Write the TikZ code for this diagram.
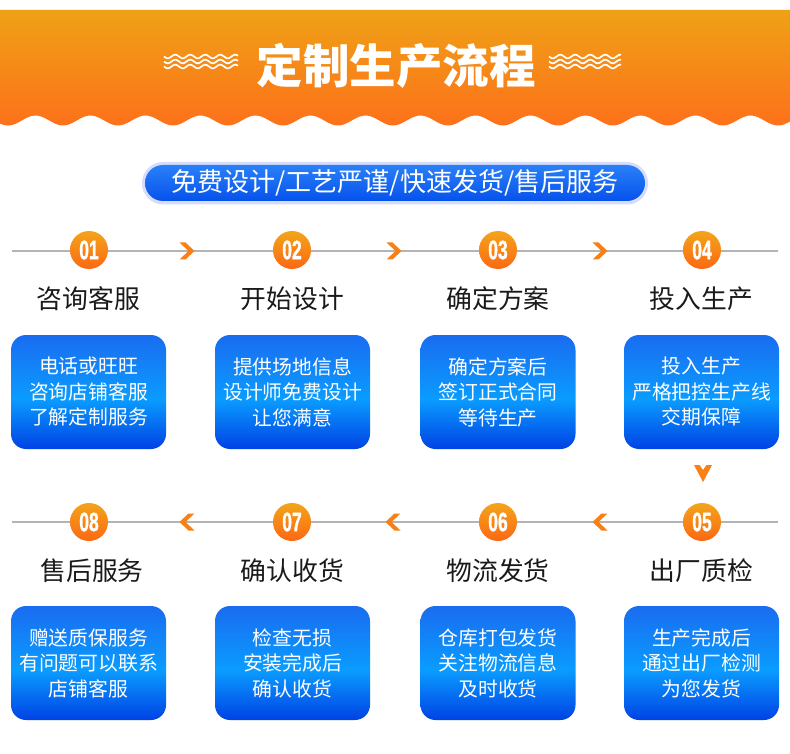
\documentclass[tikz,border=0pt]{standalone}
\usepackage{fontspec}
\setmainfont{Noto Sans CJK SC}
\newfontfamily\numfont[BoldFeatures={FakeBold=1.5}]{Liberation Sans}
\definecolor{hdtop}{HTML}{EFA116}
\definecolor{hdbot}{HTML}{FD711A}
\definecolor{btop}{HTML}{1A6CF0}
\definecolor{bmid}{HTML}{0A9CFF}
\definecolor{bbot}{HTML}{0042E4}
\definecolor{otop}{HTML}{F4A41A}
\definecolor{obot}{HTML}{FB6814}
\definecolor{lgray}{HTML}{B4B4B4}
\definecolor{ttext}{HTML}{1A1A1A}
\definecolor{ptop}{HTML}{2A80F8}
\definecolor{pbot}{HTML}{0652EC}
\definecolor{glow}{HTML}{D6DDFC}
\pgfdeclareverticalshading{boxshade}{100bp}{color(0bp)=(bbot); color(25bp)=(bbot); color(47bp)=(bmid); color(75bp)=(btop); color(100bp)=(btop)}
\tikzset{
  infobox/.style={rounded corners=15pt, minimum width=155pt, minimum height=114pt, shading=boxshade, inner sep=0pt,
    text=white, align=center, font=\fontsize{19.8}{25.5}\selectfont},
  stepnum/.style={circle, minimum size=38pt, inner sep=0pt, top color=otop, bottom color=obot, text=white,
    font=\numfont\bfseries\fontsize{26.5}{26}\selectfont},
  steptitle/.style={text=ttext, font=\fontsize{25.8}{27}\selectfont, inner sep=0pt},
  grayline/.style={draw=lgray, line width=1.2pt},
  chev/.style={fill=obot!60!otop},
  wavy/.style={white, line width=1.7pt},
}
\newcommand{\numtxt}[1]{\scalebox{0.66}[1]{#1}}
\begin{document}
\begin{tikzpicture}[x=1pt, y=-1pt]
\useasboundingbox (0,0) rectangle (790,754);
\fill[white] (0,0) rectangle (790,754);
% header
\shade[top color=hdtop, bottom color=hdbot] (0,10) -- (790,10) --
  plot[domain=790:0, samples=300] (\x, {120.5 + 5*cos((\x-8)/55*360)}) -- cycle;
\foreach \yy in {56.5,61.5,66.5} {
  \draw[wavy] plot[domain=164:238, samples=80] (\x, {\yy + 1.8*sin((\x-164)/15*360)});
  \draw[wavy] plot[domain=549:621, samples=80] (\x, {\yy + 1.8*sin((\x-549)/15*360)});
}
\node[text=white, font=\bfseries\fontsize{46.5}{46}\selectfont, inner sep=0pt] (title) at (396,66) {定制生产流程};
% pill
\fill[glow, rounded corners=21pt] (142,162) rectangle (648,204.5);
\shade[top color=ptop, bottom color=pbot, rounded corners=18pt] (145,165) rectangle (645,201);
\node[text=white, font=\fontsize{26}{26}\selectfont, inner sep=0pt] (slogan) at (395,183) {免费设计/工艺严谨/快速发货/售后服务};
% row lines
\coordinate (r1s) at (12,251); \coordinate (r1e) at (778,251);
\coordinate (r2s) at (12,522); \coordinate (r2e) at (778,522);
\draw[grayline] (r1s) -- (r1e);
\draw[grayline] (r2s) -- (r2e);
% chevrons row 1 (>)
\foreach \cx in {187,394,600} {
  \fill[chev] (\cx-7.5,242.5) -- (\cx-1.5,242.5) -- (\cx+7.5,251) -- (\cx-1.5,259.5) -- (\cx-7.5,259.5) -- (\cx+1.5,251) -- cycle;
}
% chevrons row 2 (<)
\foreach \cx in {187,393,600} {
  \fill[chev] (\cx+7.5,513.5) -- (\cx+1.5,513.5) -- (\cx-7.5,522) -- (\cx+1.5,530.5) -- (\cx+7.5,530.5) -- (\cx-1.5,522) -- cycle;
}
% down chevron
\fill[chev] (694,465) -- (699.5,465) -- (703,470) -- (706.5,465) -- (712,465) -- (703,482) -- cycle;
% row 1
\node[stepnum] (n1) at (89,250) {\numtxt{01}};
\node[stepnum] (n2) at (292,250) {\numtxt{02}};
\node[stepnum] (n3) at (498,250) {\numtxt{03}};
\node[stepnum] (n4) at (702,250) {\numtxt{04}};
\node[steptitle] (t1) at (88.5,299) {咨询客服};
\node[steptitle] (t2) at (292.5,299) {开始设计};
\node[steptitle] (t3) at (498,299) {确定方案};
\node[steptitle] (t4) at (701.5,299) {投入生产};
\node[infobox] (b1) at (88.5,392) {电话或旺旺\\咨询店铺客服\\了解定制服务};
\node[infobox] (b2) at (292.5,392) {提供场地信息\\设计师免费设计\\让您满意};
\node[infobox] (b3) at (498,392) {确定方案后\\签订正式合同\\等待生产};
\node[infobox] (b4) at (701.5,392) {投入生产\\严格把控生产线\\交期保障};
% row 2
\node[stepnum] (n5) at (702,522) {\numtxt{05}};
\node[stepnum] (n6) at (498,522) {\numtxt{06}};
\node[stepnum] (n7) at (292,522) {\numtxt{07}};
\node[stepnum] (n8) at (89,522) {\numtxt{08}};
\node[steptitle] (t5) at (701.5,571) {出厂质检};
\node[steptitle] (t6) at (498,571) {物流发货};
\node[steptitle] (t7) at (292.5,571) {确认收货};
\node[steptitle] (t8) at (92,571) {售后服务};
\node[infobox] (b5) at (701.5,663) {生产完成后\\通过出厂检测\\为您发货};
\node[infobox] (b6) at (498,663) {仓库打包发货\\关注物流信息\\及时收货};
\node[infobox] (b7) at (292.5,663) {检查无损\\安装完成后\\确认收货};
\node[infobox] (b8) at (88.5,663) {赠送质保服务\\有问题可以联系\\店铺客服};
\end{tikzpicture}
\end{document}
